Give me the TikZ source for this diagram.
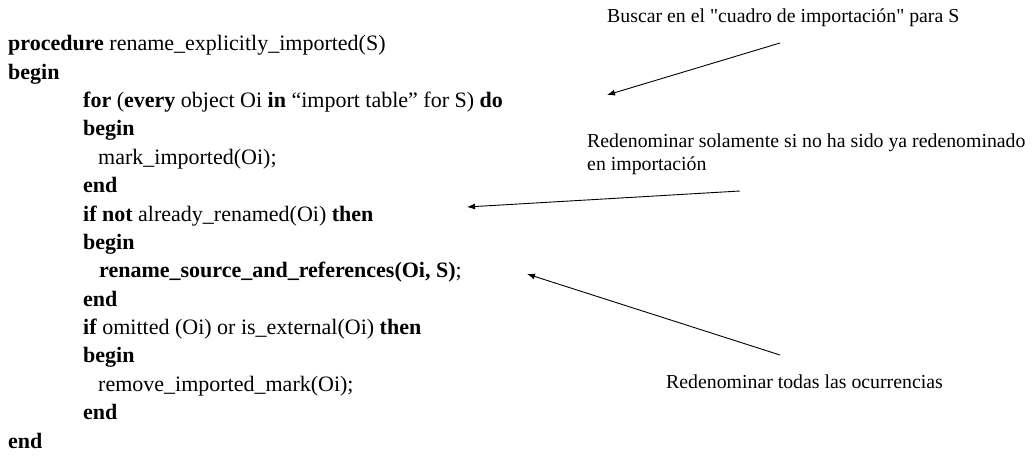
\documentclass[tikz,border=0pt]{standalone}
\usepackage{fontspec}
\setmainfont{Liberation Serif}[Ligatures=TeXOff]
\usetikzlibrary{arrows.meta}
\tikzset{
  codeline/.style={anchor=base west, inner sep=0pt, font=\fontsize{22}{26}\selectfont},
  note/.style={anchor=base west, inner sep=0pt, font=\fontsize{19.8}{23}\selectfont},
  pointer/.style={line width=0.9pt, -{Latex[length=8pt,width=6pt]}}
}
\begin{document}
\begin{tikzpicture}[x=1pt,y=-1pt]
\useasboundingbox (0,0) rectangle (1035,462);

% pseudocode, one node per line (baselines)
\node[codeline] (l0)  at (8,51)    {\textbf{procedure} rename\_explicitly\_imported(S)};
\node[codeline] (l1)  at (8,79.4)  {\textbf{begin}};
\node[codeline] (l2)  at (83,107.7) {\textbf{for} (\textbf{every} object Oi \textbf{in} “import table” for S) \textbf{do}};
\node[codeline] (l3)  at (83,136)  {\textbf{begin}};
\node[codeline] (l4)  at (98,164.4) {mark\_imported(Oi);};
\node[codeline] (l5)  at (83,192.8) {\textbf{end}};
\node[codeline] (l6)  at (83,221.1) {\textbf{if not} already\_renamed(Oi) \textbf{then}};
\node[codeline] (l7)  at (83,249.5) {\textbf{begin}};
\node[codeline] (l8)  at (99,277.8) {\textbf{rename\_source\_and\_references(Oi, S)};};
\node[codeline] (l9)  at (83,306.2) {\textbf{end}};
\node[codeline] (l10) at (83,334.5) {\textbf{if} omitted (Oi) or is\_external(Oi) \textbf{then}};
\node[codeline] (l11) at (83,362.9) {\textbf{begin}};
\node[codeline] (l12) at (98,391.2) {remove\_imported\_mark(Oi);};
\node[codeline] (l13) at (83,419.6) {\textbf{end}};
\node[codeline] (l14) at (8,448)   {\textbf{end}};

% annotations
\node[note] (n1)  at (607,23)  {Buscar en el "cuadro de importación" para S};
\node[note] (n2a) at (587,148) {Redenominar solamente si no ha sido ya redenominado};
\node[note] (n2b) at (587,171) {en importación};
\node[note] (n3)  at (666,388) {Redenominar todas las ocurrencias};

% arrow end points
\coordinate (s1) at (780,43);
\coordinate (t1) at (607,95);
\coordinate (s2) at (740,191);
\coordinate (t2) at (467,207);
\coordinate (s3) at (780,355);
\coordinate (t3) at (527,274);

\draw[pointer] (s1) -- (t1);
\draw[pointer] (s2) -- (t2);
\draw[pointer] (s3) -- (t3);
\end{tikzpicture}
\end{document}
